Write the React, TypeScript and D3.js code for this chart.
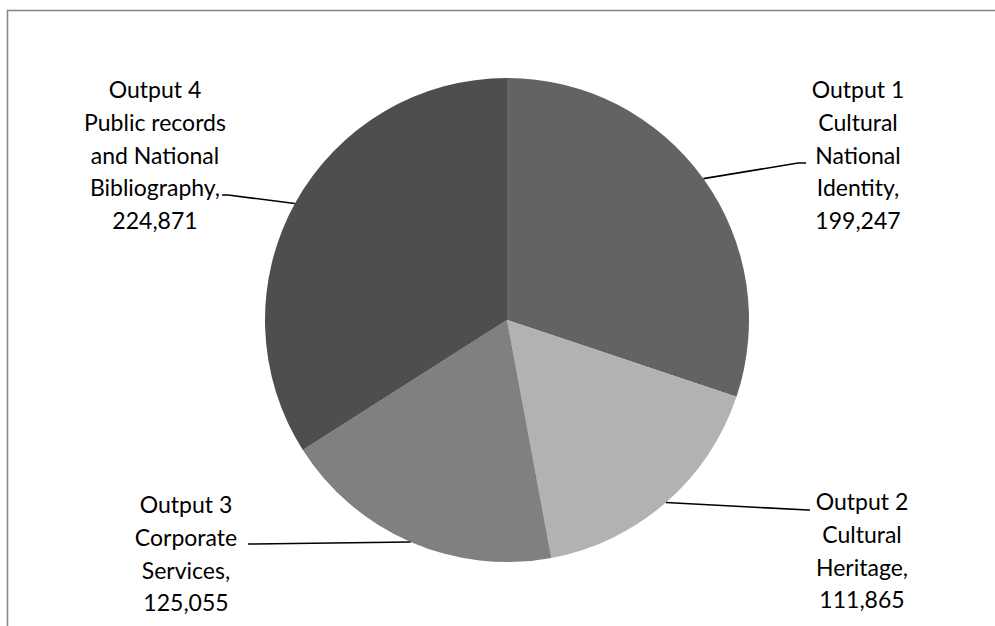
import React from "react";
import * as d3 from "d3";

const categories = [
  "Output 1 Cultural National Identity",
  "Output 2 Cultural Heritage",
  "Output 3 Corporate Services",
  "Output 4 Public records and National Bibliography",
];
const values = [199247, 111865, 125055, 224871];
const labelLines = [
  ["Output 1", "Cultural", "National", "Identity,", "199,247"],
  ["Output 2", "Cultural", "Heritage,", "111,865"],
  ["Output 3", "Corporate", "Services,", "125,055"],
  ["Output 4", "Public records", "and National", "Bibliography,", "224,871"],
];
const colors = ["#636363", "#b2b2b2", "#808080", "#4e4e4e"];

// label layout: center x, first baseline y, leader anchor (x,y), side
const labelLayout = [
  { cx: 858, y0: 98, ax: 806, ay: 163, hx: 798 },
  { cx: 862, y0: 510, ax: 810, ay: 510, hx: 808 },
  { cx: 186, y0: 513, ax: 248, ay: 544, hx: 250 },
  { cx: 155, y0: 98, ax: 222, ay: 195, hx: 228 },
];

export default function App() {
  const W = 995, H = 626;
  const cx = 507, cy = 320, r = 242;
  const pie = d3.pie<number>().sort(null).value((d) => d)(values);
  const arc = d3.arc<d3.PieArcDatum<number>>().innerRadius(0).outerRadius(r);
  const lh = 32.8;
  return (
    <svg width={W} height={H} style={{ position: "absolute", left: 0, top: 0, background: "#fff" }}>
      <rect x={7.5} y={10.5} width={W + 20} height={H + 20} fill="#fff" stroke="#888" strokeWidth={1.6} />
      <g transform={`translate(${cx},${cy})`}>
        {pie.map((p, i) => (
          <path key={categories[i]} d={arc(p) || ""} fill={colors[i]} />
        ))}
      </g>
      {pie.map((p, i) => {
        const mid = (p.startAngle + p.endAngle) / 2;
        const px = cx + r * Math.sin(mid);
        const py = cy - r * Math.cos(mid);
        const L = labelLayout[i];
        return (
          <polyline
            key={"l" + i}
            points={`${px},${py} ${L.hx},${L.ay} ${L.ax},${L.ay}`}
            fill="none"
            stroke="#000"
            strokeWidth={1.6}
          />
        );
      })}
      {labelLines.map((lines, i) => {
        const L = labelLayout[i];
        return (
          <text
            key={"t" + i}
            textAnchor="middle"
            fontFamily="Lato, 'Open Sans', sans-serif"
            fontSize={23}
            fill="#000"
          >
            {lines.map((s, j) => (
              <tspan key={j} x={L.cx} y={L.y0 + j * lh}>
                {s}
              </tspan>
            ))}
          </text>
        );
      })}
    </svg>
  );
}
